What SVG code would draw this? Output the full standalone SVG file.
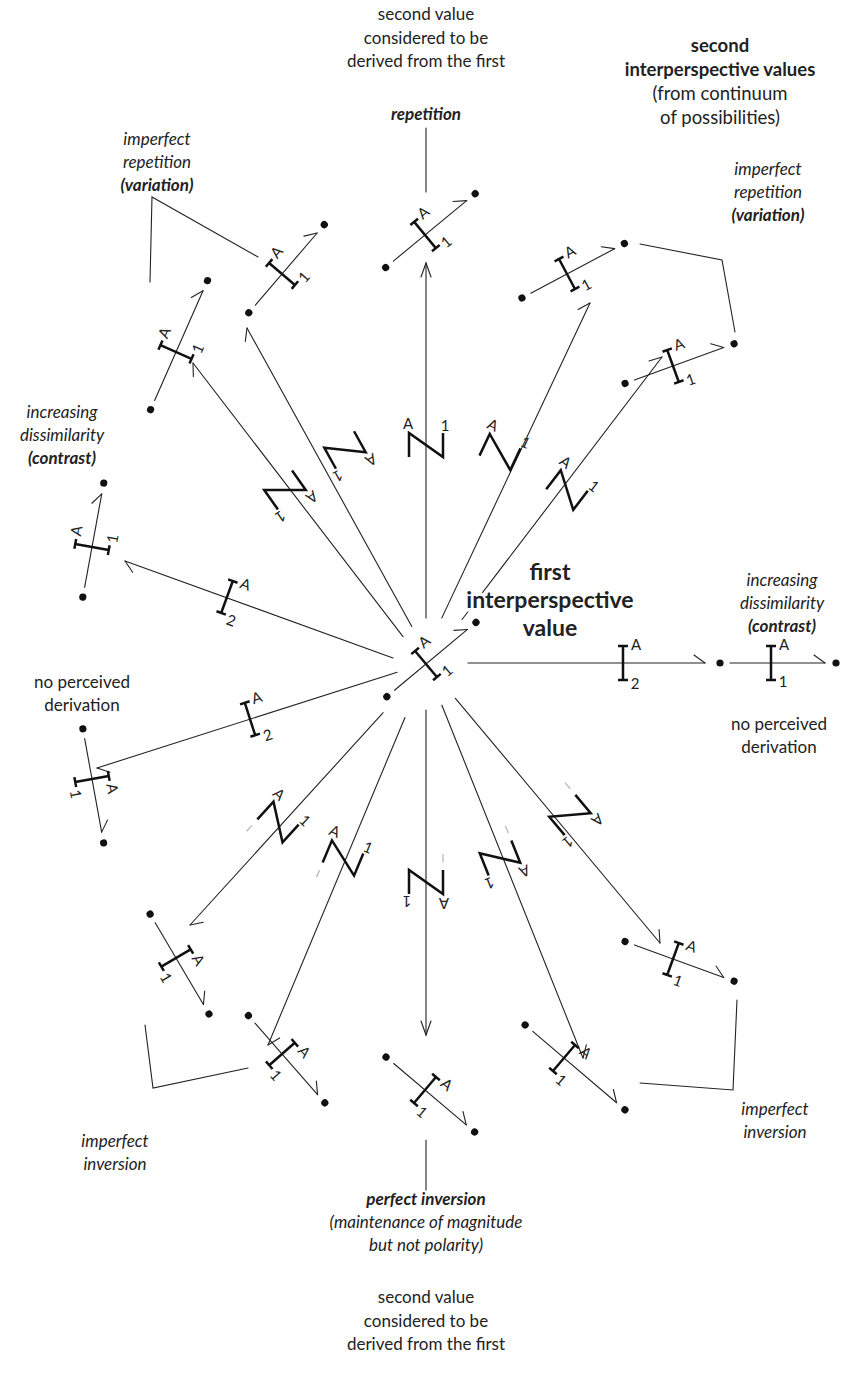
<svg xmlns="http://www.w3.org/2000/svg" xmlns:xlink="http://www.w3.org/1999/xlink" width="842" height="1382" viewBox="0 0 842 1382">
<style>
  .ln{stroke:#222;stroke-width:1.1;fill:none;stroke-linecap:round}
  .ib{stroke:#111;stroke-width:2.5;fill:none}
  .dot{fill:#111}
  text{font-family:Lato,"Open Sans",sans-serif;fill:#222}
  .t{font-size:17px;text-anchor:middle}
  .it{font-size:17px;text-anchor:middle;font-style:italic}
  .bi{font-size:17px;text-anchor:middle;font-style:italic;font-weight:bold}
  .hb{font-size:18.5px;text-anchor:middle;font-weight:bold}
  .hr{font-size:18.5px;text-anchor:middle}
  .fb{font-size:23px;text-anchor:middle;font-weight:bold;stroke:#fff;stroke-width:7;paint-order:stroke;stroke-linejoin:round}
  .lb{font-size:15px;text-anchor:middle;dominant-baseline:central}
  .tick{stroke:#b8b8b8;stroke-width:1.3}
</style>
<defs>
  <path id="ib" class="ib" d="M0,-17V17M-5,-17H5M-5,17H5"/>
  <g id="ub">
    <circle class="dot" cx="-51" cy="0" r="3.6"/>
    <line class="ln" x1="-41" y1="0" x2="54" y2="0"/>
    <polyline class="ln" points="43,-8 54,0"/>
    <circle class="dot" cx="65" cy="0" r="3.6"/>
    <use href="#ib"/>
  </g>
  <path id="zz" class="ib" d="M-17,12V-12L17,12V-12"/>
  <line id="zt" class="tick" x1="-17" y1="20" x2="-17" y2="28"/>
</defs>

<!-- captions -->
<g id="captions">
  <text class="t" x="426" y="20">second value</text>
  <text class="t" x="426" y="44">considered to be</text>
  <text class="t" x="426" y="67">derived from the first</text>

  <text class="hb" x="720" y="52">second</text>
  <text class="hb" x="720" y="76">interperspective values</text>
  <text class="hr" x="720" y="100">(from continuum</text>
  <text class="hr" x="720" y="124">of possibilities)</text>

  <text class="bi" x="426" y="120">repetition</text>

  <text class="it" x="157" y="145">imperfect</text>
  <text class="it" x="157" y="168">repetition</text>
  <text class="bi" x="157" y="191">(variation)</text>

  <text class="it" x="768" y="175">imperfect</text>
  <text class="it" x="768" y="198">repetition</text>
  <text class="bi" x="768" y="221">(variation)</text>

  <text class="it" x="62" y="418">increasing</text>
  <text class="it" x="62" y="441">dissimilarity</text>
  <text class="bi" x="62" y="464">(contrast)</text>

  <text class="it" x="782" y="586">increasing</text>
  <text class="it" x="782" y="609">dissimilarity</text>
  <text class="bi" x="782" y="632">(contrast)</text>

  <text class="t" x="82" y="688">no perceived</text>
  <text class="t" x="82" y="711">derivation</text>

  <text class="t" x="779" y="730">no perceived</text>
  <text class="t" x="779" y="753">derivation</text>

  <text class="it" x="115" y="1147">imperfect</text>
  <text class="it" x="115" y="1170">inversion</text>

  <text class="it" x="775" y="1115">imperfect</text>
  <text class="it" x="775" y="1138">inversion</text>

  <text class="bi" x="426" y="1205">perfect inversion</text>
  <text class="it" x="426" y="1228">(maintenance of magnitude</text>
  <text class="it" x="426" y="1251">but not polarity)</text>

  <text class="t" x="426" y="1303">second value</text>
  <text class="t" x="426" y="1327">considered to be</text>
  <text class="t" x="426" y="1350">derived from the first</text>
</g>

<!-- connectors: radial arrows and label leaders -->
<g id="connectors">
  <line class="ln" x1="426" y1="128" x2="426" y2="192"/>
  <line class="ln" x1="426" y1="1140" x2="426" y2="1190"/>
  <polyline class="ln" points="258,257 152,197 150,282"/>
  <polyline class="ln" points="640,244 722,260 735,332"/>
  <polyline class="ln" points="145,1025 153,1088 248,1068"/>
  <polyline class="ln" points="737,1000 733,1090 640,1083"/>

  <g transform="translate(193,363) rotate(-127.5)"><line class="ln" x1="-345" y1="0" x2="0" y2="0"/><polyline class="ln" points="-11,-8 0,0"/></g>
  <g transform="translate(247,328) rotate(-118.9)"><line class="ln" x1="-341" y1="0" x2="0" y2="0"/><polyline class="ln" points="-11,-8 0,0"/></g>
  <g transform="translate(426,263) rotate(-90)"><line class="ln" x1="-355" y1="0" x2="0" y2="0"/><polyline class="ln" points="-14,-5 0,0 -14,5"/></g>
  <g transform="translate(590,303) rotate(-64.8)"><line class="ln" x1="-348" y1="0" x2="0" y2="0"/><polyline class="ln" points="-11,-8 0,0"/></g>
  <g transform="translate(662,357) rotate(-52.7)"><line class="ln" x1="-330" y1="0" x2="0" y2="0"/><polyline class="ln" points="-11,-8 0,0"/></g>
  <g transform="translate(705,663)"><line class="ln" x1="-237" y1="0" x2="0" y2="0"/><polyline class="ln" points="-11,-8 0,0"/></g>
  <g transform="translate(125,561) rotate(-160.1)"><line class="ln" x1="-285" y1="0" x2="0" y2="0"/><polyline class="ln" points="-11,-8 0,0"/></g>
  <g transform="translate(97,768) rotate(162.3)"><line class="ln" x1="-315" y1="0" x2="0" y2="0"/><polyline class="ln" points="-11,-8 0,0"/></g>
  <g transform="translate(190,925) rotate(132.3)"><line class="ln" x1="-287" y1="0" x2="0" y2="0"/><polyline class="ln" points="-11,-8 0,0"/></g>
  <g transform="translate(268,1045) rotate(112.7)"><line class="ln" x1="-355" y1="0" x2="0" y2="0"/><polyline class="ln" points="-11,-8 0,0"/></g>
  <g transform="translate(426,1035) rotate(90)"><line class="ln" x1="-325" y1="0" x2="0" y2="0"/><polyline class="ln" points="-14,-5 0,0 -14,5"/></g>
  <g transform="translate(583,1058) rotate(68.2)"><line class="ln" x1="-380" y1="0" x2="0" y2="0"/><polyline class="ln" points="-11,-8 0,0"/></g>
  <g transform="translate(660,943) rotate(50.1)"><line class="ln" x1="-319" y1="0" x2="0" y2="0"/><polyline class="ln" points="-11,-8 0,0"/></g>
</g>

<!-- second-value units -->
<g id="u-center" transform="translate(426,664) rotate(-39.8)"><use href="#ub"/><text class="lb" x="13" y="-19">A</text><text class="lb" x="12" y="18">1</text></g>
<g id="u-top" transform="translate(425,235) rotate(-39.5)"><use href="#ub"/><text class="lb" x="13" y="-19">A</text><text class="lb" x="12" y="18">1</text></g>
<g id="u-ul1" transform="translate(282,274) rotate(-49.4)"><use href="#ub"/><text class="lb" x="13" y="-19">A</text><text class="lb" x="12" y="18">1</text></g>
<g id="u-ul2" transform="translate(176,352) rotate(-66.2)">
  <circle class="dot" cx="-63" cy="0" r="3.6"/>
  <line class="ln" x1="-53" y1="0" x2="67" y2="0"/>
  <polyline class="ln" points="56,-8 67,0"/>
  <circle class="dot" cx="78" cy="0" r="3.6"/>
  <use href="#ib"/><text class="lb" x="13" y="-19">A</text><text class="lb" x="12" y="18">1</text></g>
<g id="u-ur1" transform="translate(567,274) rotate(-28)"><use href="#ub"/><text class="lb" x="13" y="-19">A</text><text class="lb" x="12" y="18">1</text></g>
<g id="u-ur2" transform="translate(673,366) rotate(-20)"><use href="#ub"/><text class="lb" x="13" y="-19">A</text><text class="lb" x="12" y="18">1</text></g>
<g id="u-l1" transform="translate(92,547) rotate(-79.6)"><use href="#ub"/><text class="lb" x="13" y="-19">A</text><text class="lb" x="12" y="18">1</text></g>
<g id="u-r" transform="translate(771,663)"><use href="#ub"/><text class="lb" x="13" y="-19">A</text><text class="lb" x="12" y="18">1</text></g>
<g id="u-l2" transform="translate(92,779) rotate(79.7)"><use href="#ub"/><text class="lb" x="13" y="-19">A</text><text class="lb" x="12" y="18">1</text></g>
<g id="u-ll1" transform="translate(176,958) rotate(59.5)"><use href="#ub"/><text class="lb" x="13" y="-19">A</text><text class="lb" x="12" y="18">1</text></g>
<g id="u-ll2" transform="translate(282,1054) rotate(48.8)"><use href="#ub"/><text class="lb" x="13" y="-19">A</text><text class="lb" x="12" y="18">1</text></g>
<g id="u-bottom" transform="translate(425,1090) rotate(40.2)"><use href="#ub"/><text class="lb" x="13" y="-19">A</text><text class="lb" x="12" y="18">1</text></g>
<g id="u-lr2" transform="translate(564,1058) rotate(40.4)">
  <circle class="dot" cx="-51" cy="0" r="3.6"/>
  <line class="ln" x1="-41" y1="0" x2="69" y2="0"/>
  <polyline class="ln" points="58,-8 69,0"/>
  <circle class="dot" cx="80" cy="0" r="3.6"/>
  <use href="#ib"/><text class="lb" x="13" y="-19">A</text><text class="lb" x="12" y="18">1</text></g>
<g id="u-lr1" transform="translate(673,959) rotate(20)"><use href="#ub"/><text class="lb" x="13" y="-19">A</text><text class="lb" x="12" y="18">1</text></g>

<!-- beams on the long arrows -->
<g id="b-right" transform="translate(623,663)"><use href="#ib"/><text class="lb" x="13" y="-19">A</text><text class="lb" x="12" y="20">2</text></g>
<g id="b-left-up" transform="translate(227,597) rotate(20)"><use href="#ib"/><text class="lb" x="13" y="-19">A</text><text class="lb" x="12" y="20">2</text></g>
<g id="b-left-down" transform="translate(250,719) rotate(-17.7)"><use href="#ib"/><text class="lb" x="13" y="-19">A</text><text class="lb" x="12" y="20">2</text></g>

<!-- folded beams along the arrows -->
<g id="z-a" transform="translate(285,490) rotate(145)"><use href="#zz"/><text class="lb" x="-18" y="-22">A</text><text class="lb" x="19" y="-20">1</text></g>
<g id="z-b" transform="translate(345,450) rotate(151)"><use href="#zz"/><text class="lb" x="-18" y="-22">A</text><text class="lb" x="19" y="-20">1</text></g>
<g id="z-c" transform="translate(426,445)"><use href="#zz"/><text class="lb" x="-18" y="-22">A</text><text class="lb" x="19" y="-20">1</text></g>
<g id="z-d" transform="translate(500,452) rotate(25.2)"><use href="#zz"/><text class="lb" x="-18" y="-22">A</text><text class="lb" x="19" y="-20">1</text></g>
<g id="z-e" transform="translate(567,490) rotate(37.3)"><use href="#zz"/><text class="lb" x="-18" y="-22">A</text><text class="lb" x="19" y="-20">1</text></g>
<g id="z-i" transform="translate(278,822) rotate(42.3)"><use href="#zz"/><use href="#zt"/><text class="lb" x="-18" y="-22">A</text><text class="lb" x="19" y="-20">1</text></g>
<g id="z-j" transform="translate(343,858) rotate(22.7)"><use href="#zz"/><use href="#zt"/><text class="lb" x="-18" y="-22">A</text><text class="lb" x="19" y="-20">1</text></g>
<g id="z-k" transform="translate(426,882) rotate(180)"><use href="#zz"/><use href="#zt"/><text class="lb" x="-18" y="-22">A</text><text class="lb" x="19" y="-20">1</text></g>
<g id="z-l" transform="translate(500,858) rotate(158.2)"><use href="#zz"/><use href="#zt"/><text class="lb" x="-18" y="-22">A</text><text class="lb" x="19" y="-20">1</text></g>
<g id="z-m" transform="translate(570,815) rotate(140.1)"><use href="#zz"/><use href="#zt"/><text class="lb" x="-18" y="-22">A</text><text class="lb" x="19" y="-20">1</text></g>

<!-- central caption drawn over the arrows -->
<g id="first-value">
  <text class="fb" x="550" y="580">first</text>
  <text class="fb" x="550" y="608">interperspective</text>
  <text class="fb" x="550" y="636">value</text>
</g>
</svg>
